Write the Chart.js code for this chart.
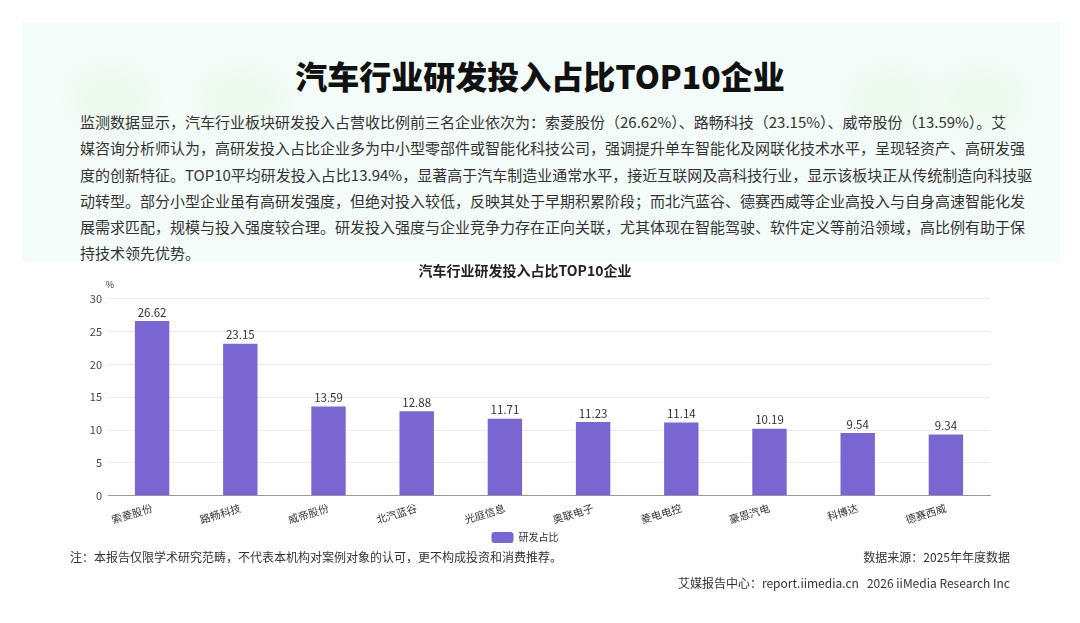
<!DOCTYPE html>
<html>
<head>
<meta charset="utf-8">
<script src="https://cdn.jsdelivr.net/npm/chart.js@4.4.1/dist/chart.umd.min.js"></script>
<style>
  html, body { margin: 0; padding: 0; background: #fff; }
  body { width: 1080px; height: 623px; position: relative; overflow: hidden;
         font-family: "Noto Sans CJK SC", "Noto Sans", sans-serif; color: #333; }
  .panel { position: absolute; left: 22px; top: 22px; width: 1038px; height: 240px;
           background: #f4fcfa; }
  .blob { position: absolute; top: 50px; height: 52px; width: 80px; border-radius: 30px;
          background: #edf9ee; filter: blur(10px); }
  h1 { position: absolute; left: 0; width: 1080px; top: 52px; margin: 0; text-align: center;
       font-size: 32px; font-weight: 900; color: #111; letter-spacing: 0px; }
  .para { position: absolute; left: 80px; top: 109px; width: 920px; font-size: 15px;
          line-height: 26.3px; color: #333; }
  .para div { text-align: justify; text-align-last: justify; white-space: nowrap; }
  .para div.last { text-align-last: left; }
  .chartbox { position: absolute; left: 60px; top: 259px; width: 960px; height: 294px; }
  .note { position: absolute; top: 548px; font-size: 12px; color: #333; }
</style>
</head>
<body>
<div class="panel">
  <div class="blob" style="left:50px"></div>
  <div class="blob" style="left:180px"></div>
  <div class="blob" style="left:830px"></div>
  <div class="blob" style="left:920px"></div>
</div>
<h1>汽车行业研发投入占比TOP10企业</h1>
<div class="para">
  <div>监测数据显示，汽车行业板块研发投入占营收比例前三名企业依次为：索菱股份（26.62%）、路畅科技（23.15%）、威帝股份（13.59%）。艾</div>
  <div>媒咨询分析师认为，高研发投入占比企业多为中小型零部件或智能化科技公司，强调提升单车智能化及网联化技术水平，呈现轻资产、高研发强</div>
  <div>度的创新特征。TOP10平均研发投入占比13.94%，显著高于汽车制造业通常水平，接近互联网及高科技行业，显示该板块正从传统制造向科技驱</div>
  <div>动转型。部分小型企业虽有高研发强度，但绝对投入较低，反映其处于早期积累阶段；而北汽蓝谷、德赛西威等企业高投入与自身高速智能化发</div>
  <div>展需求匹配，规模与投入强度较合理。研发投入强度与企业竞争力存在正向关联，尤其体现在智能驾驶、软件定义等前沿领域，高比例有助于保</div>
  <div class="last">持技术领先优势。</div>
</div>
<div class="chartbox"><canvas id="rdChart"></canvas></div>
<div class="note" style="left:70px">注：本报告仅限学术研究范畴，不代表本机构对案例对象的认可，更不构成投资和消费推荐。</div>
<div class="note" style="right:70px">数据来源：2025年年度数据</div>
<div class="note" style="right:70px; top:574px">艾媒报告中心：report.iimedia.cn&nbsp;&nbsp;&nbsp;2026 iiMedia Research Inc</div>

<script>
  const companies = ["索菱股份", "路畅科技", "威帝股份", "北汽蓝谷", "光庭信息",
                     "奥联电子", "菱电电控", "豪恩汽电", "科博达", "德赛西威"];
  const rdRatio = [26.62, 23.15, 13.59, 12.88, 11.71, 11.23, 11.14, 10.19, 9.54, 9.34];
  const yTicks = [0, 5, 10, 15, 20, 25, 30];

  const FONT = '"Noto Sans CJK SC", "Noto Sans", sans-serif';
  const BAR = "#7a66d1";

  // value labels above bars + "%" unit above the y axis
  const labelPlugin = {
    id: "barLabels",
    afterDatasetsDraw(chart) {
      const { ctx, chartArea } = chart;
      const meta = chart.getDatasetMeta(0);
      ctx.save();
      ctx.font = "11.5px " + FONT;
      ctx.fillStyle = "#333";
      ctx.textAlign = "center";
      ctx.textBaseline = "bottom";
      meta.data.forEach((bar, i) => {
        ctx.fillText(rdRatio[i].toFixed(2), bar.x, bar.y - 3);
      });
      ctx.font = "9px " + FONT;
      ctx.fillText("%", chartArea.left + 2, chartArea.top - 10);
      ctx.restore();
    },
  };

  new Chart(document.getElementById("rdChart"), {
    type: "bar",
    data: {
      labels: companies,
      datasets: [{
        label: "研发占比",
        data: rdRatio,
        backgroundColor: BAR,
        borderColor: BAR,
        borderWidth: 0,
        barPercentage: 0.39,
        categoryPercentage: 1.0,
      }],
    },
    options: {
      responsive: true,
      maintainAspectRatio: false,
      animation: false,
      layout: { padding: { left: 0, right: 30, top: 0, bottom: 0 } },
      plugins: {
        title: {
          display: true,
          text: "汽车行业研发投入占比TOP10企业",
          color: "#222",
          font: { family: FONT, size: 14, weight: "bold" },
          padding: { top: 3, bottom: 20 },
        },
        legend: {
          position: "bottom",
          labels: {
            color: "#333",
            font: { family: FONT, size: 10 },
            boxWidth: 22,
            boxHeight: 11,
            useBorderRadius: true,
            borderRadius: 3,
            padding: 8,
          },
        },
        tooltip: { enabled: false },
      },
      scales: {
        x: {
          grid: { display: false },
          border: { color: "#9a9a9a" },
          ticks: {
            color: "#333",
            font: { family: FONT, size: 10.5 },
            minRotation: 17,
            maxRotation: 17,
            padding: -2,
          },
        },
        y: {
          min: 0,
          max: 30,
          afterBuildTicks: (s) => { s.ticks = yTicks.map((v) => ({ value: v })); },
          afterFit: (s) => { s.width = 48; },
          grid: { color: "#ececec", drawTicks: false },
          border: { display: false },
          ticks: {
            color: "#444",
            font: { family: FONT, size: 11 },
            padding: 6,
          },
        },
      },
    },
    plugins: [labelPlugin],
  });
</script>
</body>
</html>
